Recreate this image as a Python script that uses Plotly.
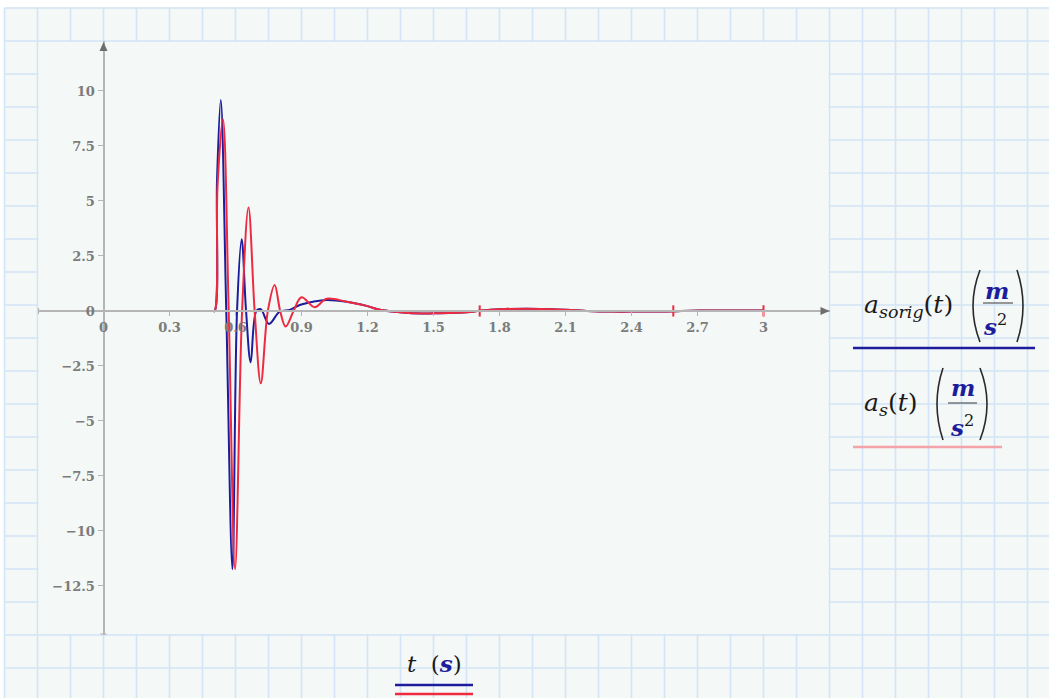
import plotly.graph_objects as go

W, H = 1049, 698

# ---------------- data ----------------
t_sorig = [0, 0.495, 0.505, 0.516, 0.533, 0.558, 0.586, 0.607, 0.628, 0.648, 0.669,
           0.695, 0.715, 0.752, 0.801, 0.847, 0.892, 0.953, 1.014, 1.105, 1.196, 1.256,
           1.347, 1.45, 1.5, 1.651, 1.71, 1.80, 1.924, 2.045, 2.197, 2.317, 2.41,
           2.56, 2.71, 3.0]
a_sorig = [0, 0, 0, 5.95, 9.59, 0, -11.74, 0, 3.26, 0, -2.33,
           0, 0.08, -0.59, -0.03, 0.05, 0.27, 0.42, 0.50, 0.42, 0.23, 0.05,
           -0.06, -0.12, -0.11, -0.06, 0.01, 0.08, 0.10, 0.08, 0.0, -0.03, -0.03,
           -0.02, 0.02, 0.02]

t_s = [0, 0.495, 0.505, 0.518, 0.543, 0.569, 0.598, 0.630, 0.659, 0.687, 0.715,
       0.747, 0.778, 0.803, 0.828, 0.864, 0.900, 0.960, 1.014, 1.105, 1.196, 1.256,
       1.347, 1.45, 1.5, 1.651, 1.71, 1.80, 1.924, 2.045, 2.197, 2.317, 2.41,
       2.56, 2.71, 3.0]
a_s = [0, 0, 0, 5.6, 8.71, 0, -11.74, 0, 4.70, 0, -3.29,
       0, 1.18, 0, -0.71, 0, 0.62, 0.17, 0.55, 0.42, 0.23, 0.05,
       -0.06, -0.12, -0.11, -0.06, 0.01, 0.08, 0.10, 0.08, 0.0, -0.03, -0.03,
       -0.02, 0.02, 0.02]

mark_t = [1.71, 2.59, 3.0]
mark_v = [0, 0, 0]

x_ticks = [0, 0.3, 0.6, 0.9, 1.2, 1.5, 1.8, 2.1, 2.4, 2.7, 3]
x_ticklabels = ["0", "0.3", "0.6", "0.9", "1.2", "1.5", "1.8", "2.1", "2.4", "2.7", "3"]
y_ticks = [-12.5, -10, -7.5, -5, -2.5, 0, 2.5, 5, 7.5, 10]
y_ticklabels = ["\u221212.5", "\u221210", "\u22127.5", "\u22125", "\u22122.5", "0",
                "2.5", "5", "7.5", "10"]

x_range = [-0.3, 3.3]
y_range = [-14.73, 12.27]

# ---------------- styles ----------------
BLUE = "#1c1c9c"
RED = "#ee2a40"
PINK = "#f4a4a8"
CELL = "#f4f8f6"
GRIDC = "#d2e4f5"
AXC = "#b5b5b5"
ARROWC = "#6e6e6e"
FONT = "DejaVu Serif"

# plot area in pixels
PL, PR, PT, PB = 37.5, 829.5, 41.0, 635.0


def X(px):
    return px / W


def Y(py):
    return 1 - py / H


xdom = [X(PL), X(PR)]
ydom = [Y(PB), Y(PT)]

# pixel positions of the zero lines, from the axis scales
zero_px_x = PL + (0 - x_range[0]) / (x_range[1] - x_range[0]) * (PR - PL)
zero_px_y = PB - (0 - y_range[0]) / (y_range[1] - y_range[0]) * (PB - PT)

fig = go.Figure()
fig.add_trace(go.Scatter(x=t_sorig, y=a_sorig, mode="lines",
                         line=dict(color=BLUE, width=2, shape="spline", smoothing=1.0),
                         hoverinfo="skip", showlegend=False))
fig.add_trace(go.Scatter(x=t_s, y=a_s, mode="lines",
                         line=dict(color=RED, width=2, shape="spline", smoothing=1.0),
                         hoverinfo="skip", showlegend=False))
fig.add_trace(go.Scatter(x=mark_t, y=mark_v, mode="markers",
                         marker=dict(symbol="line-ns", size=8,
                                     line=dict(color=RED, width=2)),
                         hoverinfo="skip", showlegend=False))

shapes = []
# worksheet background
shapes.append(dict(type="rect", xref="paper", yref="paper", x0=X(4.5), x1=1.0,
                   y0=0, y1=Y(8), fillcolor=CELL, line_width=0, layer="below"))
k = 0
while 4.5 + 33 * k < W:
    xx = 4.5 + 33 * k
    shapes.append(dict(type="line", xref="paper", yref="paper", x0=X(xx), x1=X(xx),
                       y0=0, y1=Y(8), line=dict(color=GRIDC, width=1.6), layer="below"))
    k += 1
k = 0
while 8 + 33 * k < H:
    yy = 8 + 33 * k
    shapes.append(dict(type="line", xref="paper", yref="paper", x0=X(4.5), x1=1.0,
                       y0=Y(yy), y1=Y(yy), line=dict(color=GRIDC, width=1.6), layer="below"))
    k += 1
# plot area
shapes.append(dict(type="rect", xref="paper", yref="paper", x0=X(PL + 1), x1=X(PR - 1),
                   y0=Y(PB - 1), y1=Y(PT + 1), fillcolor=CELL, line_width=0, layer="below"))


def path(points):
    return "M " + " L ".join(f"{X(a):.5f},{Y(b):.5f}" for a, b in points) + " Z"


# axis arrowheads and end caps
shapes.append(dict(type="path", xref="paper", yref="paper",
                   path=path([(PR, zero_px_y), (PR - 9, zero_px_y - 4), (PR - 9, zero_px_y + 4)]),
                   fillcolor=ARROWC, line=dict(width=0), layer="above"))
shapes.append(dict(type="path", xref="paper", yref="paper",
                   path=path([(zero_px_x, PT + 1), (zero_px_x - 4, PT + 10), (zero_px_x + 4, PT + 10)]),
                   fillcolor=ARROWC, line=dict(width=0), layer="above"))
shapes.append(dict(type="line", xref="paper", yref="paper", x0=X(PL + 1), x1=X(PL + 1),
                   y0=Y(zero_px_y - 3), y1=Y(zero_px_y + 3), line=dict(color=AXC, width=1.2),
                   layer="above"))
shapes.append(dict(type="line", xref="paper", yref="paper", x0=X(zero_px_x - 3), x1=X(zero_px_x + 3),
                   y0=Y(PB - 1), y1=Y(PB - 1), line=dict(color=AXC, width=1.2), layer="above"))


def paren(x_end, x_mid, y_top, y_bot):
    cx = 2 * x_mid - x_end
    ym = (y_top + y_bot) / 2
    return dict(type="path", xref="paper", yref="paper",
                path=f"M {X(x_end):.5f},{Y(y_top):.5f} Q {X(cx):.5f},{Y(ym):.5f} {X(x_end):.5f},{Y(y_bot):.5f}",
                line=dict(color="#2a2a2a", width=1.6), layer="above")


def hline(x0, x1, y, color, width):
    return dict(type="line", xref="paper", yref="paper", x0=X(x0), x1=X(x1),
                y0=Y(y), y1=Y(y), line=dict(color=color, width=width), layer="above")


# legend 1
shapes.append(paren(980, 973, 270, 342))
shapes.append(paren(1017, 1023, 270, 342))
shapes.append(hline(983, 1013, 303, "#555555", 1.2))
shapes.append(hline(853, 1035, 348, BLUE, 2.5))
# legend 2
shapes.append(paren(943, 937, 368, 440))
shapes.append(paren(980, 987, 368, 440))
shapes.append(hline(948, 977, 403, "#555555", 1.2))
shapes.append(hline(853, 1002, 447, PINK, 2.5))
# x label lines
shapes.append(hline(395, 473, 685, BLUE, 2.5))
shapes.append(hline(395, 473, 694, RED, 2.5))

ann = []


def txt(text, x, y, xanchor="center", size=22, color="#1a1a1a"):
    ann.append(dict(text=text, xref="paper", yref="paper", x=X(x), y=Y(y),
                    xanchor=xanchor, yanchor="middle", showarrow=False,
                    font=dict(family=FONT, size=size, color=color)))


BM = f"<span style='color:{BLUE}'><b><i>m</i></b></span>"
BS = f"<span style='color:{BLUE}'><b><i>s</i></b></span>"

txt("<i>a</i><sub><i>sorig</i></sub>(<i>t</i>)", 862, 306, xanchor="left", size=25)
txt(BM, 997, 290, size=23)
txt(BS + "<sup>2</sup>", 995, 325, size=23)
txt("<i>a</i><sub><i>s</i></sub>(<i>t</i>)", 862, 404, xanchor="left", size=25)
txt(BM, 963, 387, size=23)
txt(BS + "<sup>2</sup>", 962, 426, size=23)
txt("<i>t</i>  (" + BS + ")", 434, 663, size=23)

fig.update_layout(
    width=W, height=H,
    margin=dict(l=0, r=0, t=0, b=0),
    paper_bgcolor="white",
    plot_bgcolor="rgba(0,0,0,0)",
    shapes=shapes,
    annotations=ann,
    showlegend=False,
    xaxis=dict(domain=xdom, range=x_range, anchor="free",
               position=Y(zero_px_y),
               showgrid=False, zeroline=False, showline=True,
               linecolor=AXC, linewidth=2,
               tickmode="array", tickvals=x_ticks, ticktext=x_ticklabels,
               ticks="outside", ticklen=4, tickcolor=AXC, tickwidth=1,
               tickfont=dict(family=FONT, size=13, color="#7c7c7c", weight="bold")),
    yaxis=dict(domain=ydom, range=y_range, anchor="free",
               position=X(zero_px_x),
               showgrid=False, zeroline=False, showline=True,
               linecolor=AXC, linewidth=2,
               tickmode="array", tickvals=y_ticks, ticktext=y_ticklabels,
               ticks="outside", ticklen=5, tickcolor=AXC, tickwidth=1,
               tickfont=dict(family=FONT, size=13, color="#7c7c7c", weight="bold")),
)

fig.write_html("out.html")
